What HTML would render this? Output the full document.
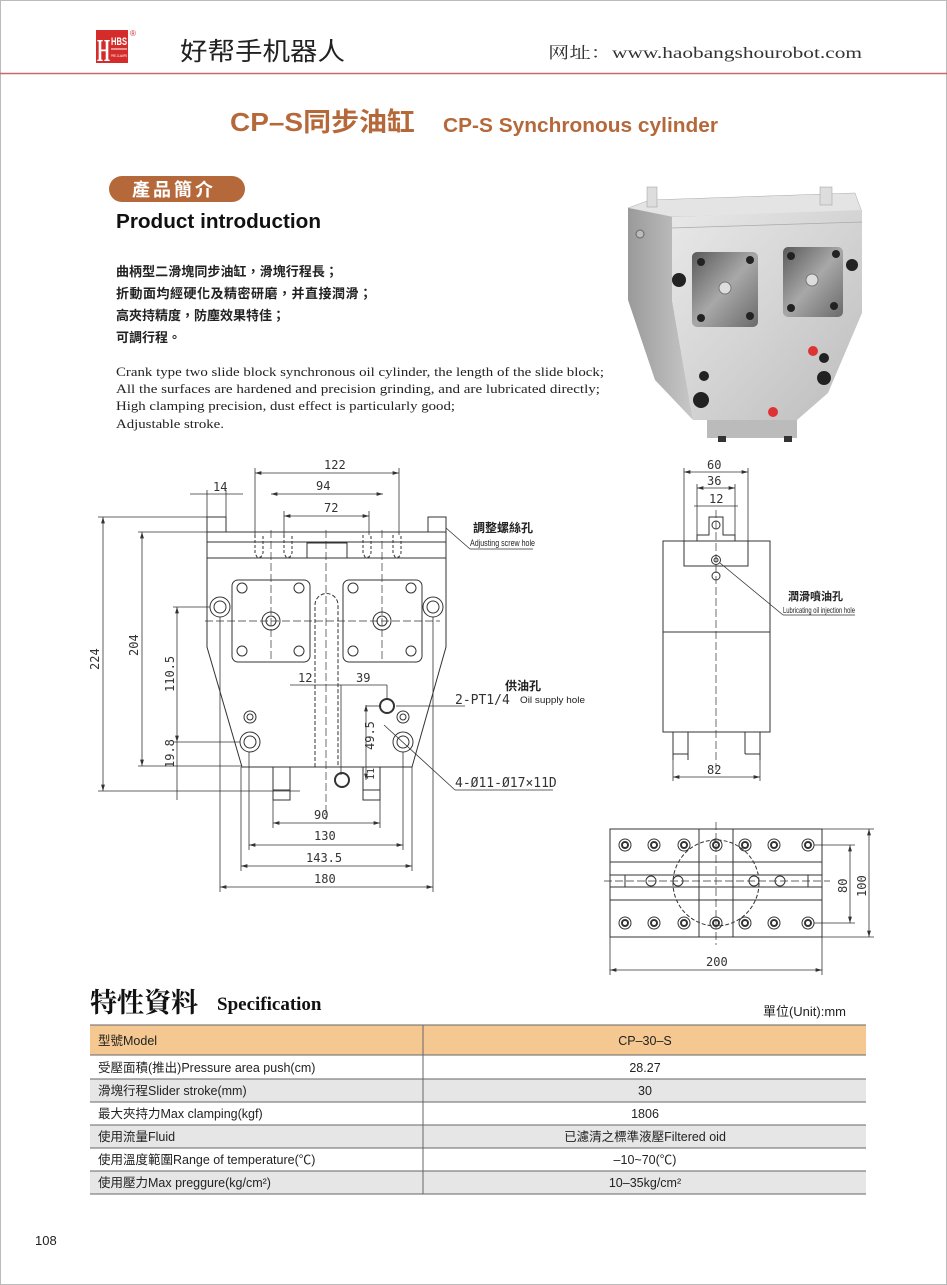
<!DOCTYPE html>
<html><head><meta charset="utf-8"><style>
html,body{margin:0;padding:0;background:#fff}
body{width:947px;height:1285px;position:relative;overflow:hidden}
svg{position:absolute;left:0;top:0}
.cn{font-family:"Liberation Sans","Noto Sans CJK TC",sans-serif}
.d{font-family:"DejaVu Sans Mono","Liberation Mono",monospace;font-size:12px;fill:#333}
</style></head><body>
<svg width="947" height="1285" viewBox="0 0 947 1285" xmlns="http://www.w3.org/2000/svg">
<defs>
<linearGradient id="gf" x1="0" y1="0" x2="1" y2="1"><stop offset="0" stop-color="#e8e8e8"/><stop offset="0.5" stop-color="#d4d4d4"/><stop offset="1" stop-color="#bcbcbc"/></linearGradient>
<linearGradient id="gs" x1="0" y1="0" x2="1" y2="0"><stop offset="0" stop-color="#9a9a9a"/><stop offset="1" stop-color="#c8c8c8"/></linearGradient>
<linearGradient id="gp" x1="0" y1="0" x2="1" y2="1"><stop offset="0" stop-color="#5a5a5a"/><stop offset="0.5" stop-color="#a8a8a8"/><stop offset="1" stop-color="#6a6a6a"/></linearGradient>
<marker id="a" viewBox="0 0 10 6" refX="10" refY="3" markerWidth="8" markerHeight="5" orient="auto-start-reverse"><path d="M0,0L10,3L0,6z" fill="#333"/></marker>
</defs>
<rect x="0.5" y="0.5" width="946" height="1284" fill="none" stroke="#bbb"/>
<!-- header -->
<rect x="96" y="30" width="32" height="33" fill="#d42b2b"/>
<text x="97" y="61" font-family="Liberation Serif,serif" font-size="32" font-weight="bold" fill="#fff" textLength="13" lengthAdjust="spacingAndGlyphs">H</text>
<text x="111" y="45" font-family="Liberation Sans,sans-serif" font-size="11" font-weight="bold" fill="#fff" textLength="16" lengthAdjust="spacingAndGlyphs">HBS</text>
<line x1="111" y1="49" x2="127" y2="49" stroke="#fff"/>
<text x="111" y="57" font-family="Liberation Sans,sans-serif" font-size="3.5" fill="#fff" textLength="16" lengthAdjust="spacingAndGlyphs">PRE-CLAMPS</text>
<text x="130" y="36" font-size="8" fill="#d42b2b" font-family="Liberation Sans,sans-serif">®</text>
<text x="180" y="60" class="cn" font-size="25" fill="#222" textLength="165" lengthAdjust="spacingAndGlyphs">好帮手机器人</text>
<text x="548" y="58" font-family="Liberation Serif,'Noto Serif CJK SC',serif" font-size="16" fill="#333" textLength="314" lengthAdjust="spacingAndGlyphs">网址：www.haobangshourobot.com</text>
<line x1="0" y1="73.5" x2="947" y2="73.5" stroke="#c46a6a" stroke-width="1.5"/>
<!-- title -->
<text x="230" y="131" class="cn" font-size="26" font-weight="bold" fill="#b5693a" textLength="185" lengthAdjust="spacingAndGlyphs">CP–S同步油缸</text>
<text x="443" y="132" font-family="Liberation Sans,sans-serif" font-size="20" font-weight="bold" fill="#b5693a" textLength="275" lengthAdjust="spacingAndGlyphs">CP-S Synchronous cylinder</text>
<rect x="109" y="176" width="136" height="26" rx="13" fill="#b5693a"/>
<text x="132" y="196" class="cn" font-size="18" font-weight="bold" fill="#fff" letter-spacing="3">產品簡介</text>
<text x="116" y="228" font-family="Liberation Sans,sans-serif" font-size="20" font-weight="bold" fill="#111" textLength="205" lengthAdjust="spacingAndGlyphs">Product introduction</text>
<g class="cn" font-size="13" font-weight="bold" fill="#222">
<text x="116" y="276" textLength="222">曲柄型二滑塊同步油缸，滑塊行程長；</text>
<text x="116" y="298" textLength="256">折動面均經硬化及精密研磨，并直接潤滑；</text>
<text x="116" y="320" textLength="169">高夾持精度，防塵效果特佳；</text>
<text x="116" y="342">可調行程。</text>
</g>
<g font-family="Liberation Serif,serif" font-size="12.5" fill="#222">
<text x="116" y="376" textLength="488" lengthAdjust="spacingAndGlyphs">Crank type two slide block synchronous oil cylinder, the length of the slide block;</text>
<text x="116" y="393" textLength="484" lengthAdjust="spacingAndGlyphs">All the surfaces are hardened and precision grinding, and are lubricated directly;</text>
<text x="116" y="410" textLength="339" lengthAdjust="spacingAndGlyphs">High clamping precision, dust effect is particularly good;</text>
<text x="116" y="428" textLength="108" lengthAdjust="spacingAndGlyphs">Adjustable stroke.</text>
</g>
<!-- photo -->
<g>
<polygon points="628,208 650,200 855,193 862,212 672,217" fill="#e4e4e4" stroke="#aaa" stroke-width="0.5"/>
<rect x="647" y="187" width="10" height="20" fill="#ddd" stroke="#999" stroke-width="0.5"/>
<rect x="820" y="187" width="12" height="18" fill="#ddd" stroke="#999" stroke-width="0.5"/>
<polygon points="628,208 672,217 672,300 693,420 655,380 628,300" fill="url(#gs)"/>
<polygon points="672,217 862,210 862,313 828,393 797,420 693,420 672,300" fill="url(#gf)"/>
<line x1="672" y1="228" x2="862" y2="222" stroke="#aaa" stroke-width="0.7"/>
<rect x="707" y="420" width="90" height="18" fill="#bbb"/>
<rect x="718" y="436" width="8" height="6" fill="#333"/><rect x="784" y="436" width="8" height="6" fill="#333"/>
<rect x="692" y="252" width="66" height="75" rx="5" fill="url(#gp)"/>
<rect x="783" y="247" width="60" height="70" rx="5" fill="url(#gp)"/>
<g fill="#222"><circle cx="701" cy="262" r="4"/><circle cx="750" cy="260" r="4"/><circle cx="701" cy="318" r="4"/><circle cx="750" cy="316" r="4"/><circle cx="791" cy="256" r="4"/><circle cx="836" cy="254" r="4"/><circle cx="791" cy="308" r="4"/><circle cx="834" cy="306" r="4"/>
<circle cx="679" cy="280" r="7"/><circle cx="852" cy="265" r="6"/><circle cx="704" cy="376" r="5"/><circle cx="701" cy="400" r="8"/><circle cx="824" cy="358" r="5"/><circle cx="824" cy="378" r="7"/></g>
<circle cx="725" cy="288" r="6" fill="#ddd" stroke="#777"/><circle cx="812" cy="280" r="6" fill="#ddd" stroke="#777"/>
<circle cx="813" cy="351" r="5" fill="#d33"/><circle cx="773" cy="412" r="5" fill="#d33"/>
<circle cx="640" cy="234" r="4" fill="#bbb" stroke="#666"/>
</g>
<!-- main drawing -->
<g fill="none" stroke="#333" stroke-width="1">
<rect x="207" y="517" width="19" height="15"/><rect x="428" y="517" width="18" height="15"/>
<polyline points="226,532 428,532"/>
<path d="M207,532 V647 L242,767 H412 L446,647 V532"/>
<line x1="207" y1="558" x2="446" y2="558"/>
<line x1="207" y1="542" x2="446" y2="542"/>
<rect x="307" y="543" width="40" height="15"/>
<path d="M255,535 v18 l2,4 h4 l2,-4 v-18 M284,535 v18 l2,4 h4 l2,-4 v-18 M363,535 v18 l2,4 h4 l2,-4 v-18 M393,535 v18 l2,4 h4 l2,-4 v-18" stroke-dasharray="3,2"/>
<rect x="232" y="580" width="78" height="82" rx="6"/><rect x="343" y="580" width="79" height="82" rx="6"/>
<path d="M315,767 V605 a11.5,11.5 0 0 1 23,0 V767" stroke-dasharray="4,2"/>
<circle cx="220" cy="607" r="10"/><circle cx="220" cy="607" r="6"/>
<circle cx="433" cy="607" r="10"/><circle cx="433" cy="607" r="6"/>
<circle cx="250" cy="742" r="10"/><circle cx="250" cy="742" r="6"/>
<circle cx="403" cy="742" r="10"/><circle cx="403" cy="742" r="6"/>
<circle cx="250" cy="717" r="6"/><circle cx="250" cy="717" r="3"/>
<circle cx="403" cy="717" r="6"/><circle cx="403" cy="717" r="3"/>
<circle cx="271" cy="621" r="9"/><circle cx="271" cy="621" r="5"/>
<circle cx="382" cy="621" r="9"/><circle cx="382" cy="621" r="5"/>
<g><circle cx="242" cy="588" r="5"/><circle cx="299" cy="588" r="5"/><circle cx="242" cy="651" r="5"/><circle cx="299" cy="651" r="5"/><circle cx="353" cy="588" r="5"/><circle cx="411" cy="588" r="5"/><circle cx="353" cy="651" r="5"/><circle cx="411" cy="651" r="5"/></g>
<circle cx="387" cy="706" r="7" stroke-width="2"/><circle cx="342" cy="780" r="7" stroke-width="2"/>
<rect x="273" y="767" width="17" height="33"/><rect x="363" y="767" width="17" height="33"/>
<line x1="273" y1="790" x2="290" y2="790"/><line x1="363" y1="790" x2="380" y2="790"/>
<path d="M326,530 V820 M271,530 V660 M382,530 V660 M205,621 H440" stroke-dasharray="8,3" stroke-width="0.7"/>
<g stroke-width="0.8">
<line x1="103" y1="517" x2="103" y2="791" marker-start="url(#a)" marker-end="url(#a)"/>
<line x1="98" y1="517" x2="207" y2="517"/><line x1="98" y1="791" x2="300" y2="791"/>
<line x1="142" y1="532" x2="142" y2="766" marker-start="url(#a)" marker-end="url(#a)"/>
<line x1="138" y1="532" x2="207" y2="532"/><line x1="138" y1="766" x2="242" y2="766"/>
<line x1="177" y1="607" x2="177" y2="742" marker-start="url(#a)" marker-end="url(#a)"/>
<line x1="173" y1="607" x2="210" y2="607"/><line x1="173" y1="742" x2="240" y2="742"/>
<line x1="177" y1="742" x2="177" y2="800"/>
<line x1="255" y1="473" x2="399" y2="473" marker-start="url(#a)" marker-end="url(#a)"/>
<line x1="255" y1="468" x2="255" y2="535"/><line x1="399" y1="468" x2="399" y2="535"/>
<line x1="271" y1="494" x2="383" y2="494" marker-start="url(#a)" marker-end="url(#a)"/>
<line x1="284" y1="516" x2="369" y2="516" marker-start="url(#a)" marker-end="url(#a)"/>
<line x1="284" y1="511" x2="284" y2="535"/><line x1="369" y1="511" x2="369" y2="535"/>
<line x1="190" y1="494" x2="243" y2="494"/>
<line x1="207" y1="490" x2="207" y2="517"/><line x1="226" y1="490" x2="226" y2="517"/>
<line x1="273" y1="823" x2="380" y2="823" marker-start="url(#a)" marker-end="url(#a)"/>
<line x1="273" y1="800" x2="273" y2="828"/><line x1="380" y1="800" x2="380" y2="828"/>
<line x1="249" y1="845" x2="403" y2="845" marker-start="url(#a)" marker-end="url(#a)"/>
<line x1="249" y1="752" x2="249" y2="850"/><line x1="403" y1="752" x2="403" y2="850"/>
<line x1="241" y1="866" x2="412" y2="866" marker-start="url(#a)" marker-end="url(#a)"/>
<line x1="241" y1="767" x2="241" y2="871"/><line x1="412" y1="767" x2="412" y2="871"/>
<line x1="220" y1="887" x2="433" y2="887" marker-start="url(#a)" marker-end="url(#a)"/>
<line x1="220" y1="617" x2="220" y2="892"/><line x1="433" y1="617" x2="433" y2="892"/>
<line x1="290" y1="685" x2="387" y2="685"/><line x1="387" y1="685" x2="387" y2="700"/>
<line x1="341" y1="685" x2="341" y2="775"/>
<line x1="366" y1="705" x2="366" y2="780" marker-start="url(#a)" marker-end="url(#a)"/>
<line x1="366" y1="706" x2="380" y2="706"/>
<line x1="396" y1="706" x2="465" y2="706"/>
<line x1="384" y1="725" x2="455" y2="790"/><line x1="455" y1="790" x2="553" y2="790"/>
<line x1="446" y1="528" x2="470" y2="549"/><line x1="470" y1="549" x2="533" y2="549"/>
</g>
</g>
<g class="d">
<text x="324" y="469">122</text><text x="316" y="490">94</text><text x="324" y="512">72</text><text x="213" y="491">14</text>
<text x="314" y="819">90</text><text x="314" y="840">130</text><text x="306" y="862">143.5</text><text x="314" y="883">180</text>
<text x="298" y="682">12</text><text x="356" y="682">39</text>
<text transform="translate(99,670) rotate(-90)">224</text>
<text transform="translate(138,656) rotate(-90)">204</text>
<text transform="translate(174,692) rotate(-90)">110.5</text>
<text transform="translate(174,768) rotate(-90)">19.8</text>
<text transform="translate(374,750) rotate(-90)">49.5</text>
<text transform="translate(374,780) rotate(-90)" font-size="10">11</text>
<text x="455" y="704" font-size="13">2-PT1/4</text>
<text x="455" y="787" font-size="13">4-Ø11-Ø17×11D</text>
</g>
<g class="cn" fill="#222">
<text x="473" y="532" font-size="12" font-weight="bold">調整螺絲孔</text>
<text x="470" y="546" font-size="9.5" textLength="65" lengthAdjust="spacingAndGlyphs">Adjusting screw hole</text>
<text x="505" y="690" font-size="12" font-weight="bold">供油孔</text>
<text x="520" y="703" font-size="9.5" textLength="65" lengthAdjust="spacingAndGlyphs">Oil supply hole</text>
<text x="788" y="600" font-size="11" font-weight="bold">潤滑噴油孔</text>
<text x="783" y="613" font-size="8.5" textLength="72" lengthAdjust="spacingAndGlyphs">Lubricating oil injection hole</text>
</g>
<!-- side view -->
<g fill="none" stroke="#333" stroke-width="1">
<rect x="663" y="541" width="107" height="191"/>
<line x1="663" y1="632" x2="770" y2="632"/>
<path d="M684,541 V566 H748 V541 M697,541 V535 H709 V517 H723 V535 H735 V541" />
<path d="M673,732 V760 M760,732 V760 M673,754 H688 V760 M745,754 H760 V760 M688,754 V732 M745,754 V732"/>
<circle cx="716" cy="525" r="4"/><circle cx="716" cy="560" r="4.5"/><circle cx="716" cy="560" r="2"/><circle cx="716" cy="576" r="4"/>
<path d="M716,510 V770" stroke-dasharray="8,3" stroke-width="0.7"/>
<g stroke-width="0.8">
<line x1="684" y1="472" x2="748" y2="472" marker-start="url(#a)" marker-end="url(#a)"/>
<line x1="684" y1="468" x2="684" y2="541"/><line x1="748" y1="468" x2="748" y2="541"/>
<line x1="697" y1="488" x2="735" y2="488" marker-start="url(#a)" marker-end="url(#a)"/>
<line x1="697" y1="484" x2="697" y2="535"/><line x1="735" y1="484" x2="735" y2="535"/>
<line x1="694" y1="506" x2="738" y2="506"/>
<line x1="673" y1="777" x2="760" y2="777" marker-start="url(#a)" marker-end="url(#a)"/>
<line x1="673" y1="760" x2="673" y2="781"/><line x1="760" y1="760" x2="760" y2="781"/>
<line x1="720" y1="563" x2="783" y2="615"/><line x1="783" y1="615" x2="855" y2="615"/>
</g>
</g>
<g class="d"><text x="707" y="469">60</text><text x="707" y="485">36</text><text x="709" y="503">12</text><text x="707" y="774">82</text></g>
<!-- bottom view -->
<g fill="none" stroke="#333" stroke-width="1">
<rect x="610" y="829" width="212" height="108"/>
<line x1="610" y1="862" x2="822" y2="862"/><line x1="610" y1="900" x2="822" y2="900"/>
<line x1="610" y1="875" x2="822" y2="875"/><line x1="610" y1="887" x2="822" y2="887"/>
<line x1="699" y1="829" x2="699" y2="937"/><line x1="733" y1="829" x2="733" y2="937"/>
<line x1="625" y1="875" x2="625" y2="887"/><line x1="808" y1="875" x2="808" y2="887"/>
<circle cx="716" cy="883" r="43" stroke-dasharray="4,2"/>
<path d="M716,822 V945 M604,881 H830" stroke-dasharray="8,3" stroke-width="0.7"/>
<g>
<circle cx="625" cy="845" r="6"/><circle cx="654" cy="845" r="6"/><circle cx="684" cy="845" r="6"/><circle cx="716" cy="845" r="6"/><circle cx="745" cy="845" r="6"/><circle cx="774" cy="845" r="6"/><circle cx="808" cy="845" r="6"/>
<circle cx="625" cy="923" r="6"/><circle cx="654" cy="923" r="6"/><circle cx="684" cy="923" r="6"/><circle cx="716" cy="923" r="6"/><circle cx="745" cy="923" r="6"/><circle cx="774" cy="923" r="6"/><circle cx="808" cy="923" r="6"/>
</g>
<g stroke-width="2"><circle cx="625" cy="845" r="3"/><circle cx="654" cy="845" r="3"/><circle cx="684" cy="845" r="3"/><circle cx="716" cy="845" r="3"/><circle cx="745" cy="845" r="3"/><circle cx="774" cy="845" r="3"/><circle cx="808" cy="845" r="3"/>
<circle cx="625" cy="923" r="3"/><circle cx="654" cy="923" r="3"/><circle cx="684" cy="923" r="3"/><circle cx="716" cy="923" r="3"/><circle cx="745" cy="923" r="3"/><circle cx="774" cy="923" r="3"/><circle cx="808" cy="923" r="3"/></g>
<circle cx="651" cy="881" r="5"/><circle cx="678" cy="881" r="5"/><circle cx="754" cy="881" r="5"/><circle cx="780" cy="881" r="5"/>
<g stroke-width="0.8">
<line x1="850" y1="845" x2="850" y2="923" marker-start="url(#a)" marker-end="url(#a)"/>
<line x1="814" y1="845" x2="855" y2="845"/><line x1="814" y1="923" x2="855" y2="923"/>
<line x1="869" y1="829" x2="869" y2="937" marker-start="url(#a)" marker-end="url(#a)"/>
<line x1="822" y1="829" x2="874" y2="829"/><line x1="822" y1="937" x2="874" y2="937"/>
<line x1="610" y1="970" x2="822" y2="970" marker-start="url(#a)" marker-end="url(#a)"/>
<line x1="610" y1="937" x2="610" y2="975"/><line x1="822" y1="937" x2="822" y2="975"/>
</g>
</g>
<g class="d"><text transform="translate(847,893) rotate(-90)">80</text><text transform="translate(866,897) rotate(-90)">100</text><text x="706" y="966">200</text></g>
<!-- spec -->
<text x="90" y="1012" font-family="'Liberation Serif','Noto Serif CJK SC',serif" font-size="27" font-weight="bold" fill="#111">特性資料</text>
<text x="217" y="1010" font-family="Liberation Serif,serif" font-size="19" font-weight="bold" fill="#111">Specification</text>
<text x="846" y="1016" text-anchor="end" class="cn" font-size="13" fill="#222">單位(Unit):mm</text>
<rect x="90" y="1025" width="776" height="30" fill="#f6c891"/>
<rect x="90" y="1079" width="776" height="23" fill="#e6e6e6"/>
<rect x="90" y="1125" width="776" height="23" fill="#e6e6e6"/>
<rect x="90" y="1171" width="776" height="23" fill="#e6e6e6"/>
<g stroke="#666" stroke-width="1">
<line x1="90" y1="1025" x2="866" y2="1025"/><line x1="90" y1="1055" x2="866" y2="1055"/><line x1="90" y1="1079" x2="866" y2="1079"/><line x1="90" y1="1102" x2="866" y2="1102"/><line x1="90" y1="1125" x2="866" y2="1125"/><line x1="90" y1="1148" x2="866" y2="1148"/><line x1="90" y1="1171" x2="866" y2="1171"/><line x1="90" y1="1194" x2="866" y2="1194"/>
<line x1="423" y1="1025" x2="423" y2="1194"/>
</g>
<g class="cn" font-size="12.5" fill="#222">
<text x="98" y="1045">型號Model</text>
<text x="98" y="1072">受壓面積(推出)Pressure area push(cm)</text>
<text x="98" y="1095">滑塊行程Slider stroke(mm)</text>
<text x="98" y="1118">最大夾持力Max clamping(kgf)</text>
<text x="98" y="1141">使用流量Fluid</text>
<text x="98" y="1164">使用溫度範圍Range of temperature(℃)</text>
<text x="98" y="1187">使用壓力Max preggure(kg/cm²)</text>
<g text-anchor="middle">
<text x="645" y="1045">CP–30–S</text>
<text x="645" y="1072">28.27</text>
<text x="645" y="1095">30</text>
<text x="645" y="1118">1806</text>
<text x="645" y="1141">已濾清之標準液壓Filtered oid</text>
<text x="645" y="1164">–10~70(℃)</text>
<text x="645" y="1187">10–35kg/cm²</text>
</g></g>
<text x="35" y="1245" font-family="Liberation Sans,sans-serif" font-size="13" fill="#222">108</text>
</svg>
</body></html>
